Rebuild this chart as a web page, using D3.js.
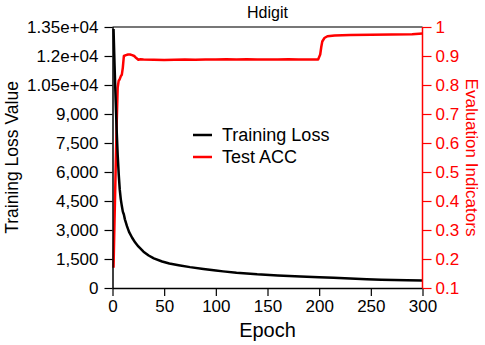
<!DOCTYPE html>
<html><head><meta charset="utf-8">
<script src="https://cdn.jsdelivr.net/npm/d3@7"></script>
<style>body{margin:0;background:#fff}svg{display:block;font-family:"Liberation Sans",Arial,sans-serif}</style>
</head><body><svg id="c" width="485" height="345"></svg>
<script>
const lossEpochs = [1,2,3,4,5,6,7,8,9,10,11,12,14,16,19,22,25,30,35,40,48,55,64,75,88,100,107,120,140,160,182,200,214,230,246,260,285,300];
const lossValues = [13400,11500,9800,8200,6900,5900,5100,4600,4250,3950,3800,3550,3200,2900,2600,2350,2150,1880,1680,1530,1370,1270,1180,1080,980,900,860,790,708,650,590,555,530,490,455,430,400,390];
const accEpochs = [1,2,3,4,5,6,7,8,9,10,11,13,15,17,19,21,23,25,27,30,40,50,60,70,80,90,100,110,120,130,140,150,160,170,180,190,199,201,202,203,205,208,215,230,250,270,290,300];
const accValues = [0.17,0.34,0.5,0.66,0.79,0.815,0.82,0.83,0.835,0.86,0.9,0.903,0.905,0.905,0.903,0.9,0.893,0.887,0.889,0.888,0.887,0.886,0.887,0.888,0.887,0.888,0.888,0.889,0.888,0.889,0.888,0.888,0.888,0.889,0.888,0.888,0.888,0.905,0.93,0.95,0.962,0.968,0.971,0.972,0.973,0.974,0.975,0.978];
const xTicks = [0,50,100,150,200,250,300];
const lossTicks = [0,1500,3000,4500,6000,7500,9000,10500,12000,13500];
const lossTickLabels = ["0","1,500","3,000","4,500","6,000","7,500","9,000","1.05e+04","1.2e+04","1.35e+04"];
const accTicks = [0.1,0.2,0.3,0.4,0.5,0.6,0.7,0.8,0.9,1];
const accTickLabels = ["0.1","0.2","0.3","0.4","0.5","0.6","0.7","0.8","0.9","1"];
const seriesNames = ["Training Loss","Test ACC"];

const svg = d3.select("#c");
const L=112.5, R=422.5, T=27, B=288;
const x = d3.scaleLinear().domain([0,300]).range([L,R]);
const yL = d3.scaleLinear().domain([0,13500]).range([B,T]);
const yR = d3.scaleLinear().domain([0.1,1]).range([B,T]);

// top border
svg.append("line").attr("x1",L).attr("x2",R).attr("y1",T).attr("y2",T).attr("stroke","#777").attr("stroke-width",2);

const lossData = lossEpochs.map((e,i)=>[e,lossValues[i]]);
const accData = accEpochs.map((e,i)=>[e,accValues[i]]);
svg.append("path").datum(accData).attr("fill","none").attr("stroke","#ff0000").attr("stroke-width",2.5)
  .attr("stroke-linejoin","round").attr("d",d3.line().x(d=>x(d[0])).y(d=>yR(d[1])));
svg.append("path").datum(lossData).attr("fill","none").attr("stroke","#000").attr("stroke-width",2.5)
  .attr("stroke-linejoin","round").attr("d",d3.line().x(d=>x(d[0])).y(d=>yL(d[1])));

const fs = "17px";
const gx = svg.append("g").attr("transform",`translate(0,${B})`)
  .call(d3.axisBottom(x).tickValues(xTicks).tickSize(8).tickPadding(4).tickFormat(d3.format("d")));
const gl = svg.append("g").attr("transform",`translate(${L},0)`)
  .call(d3.axisLeft(yL).tickValues(lossTicks).tickSize(8).tickPadding(6).tickFormat((d,i)=>lossTickLabels[i]));
const gr = svg.append("g").attr("transform",`translate(${R},0)`)
  .call(d3.axisRight(yR).tickValues(accTicks).tickSize(9).tickPadding(4).tickFormat((d,i)=>accTickLabels[i]));
[gx,gl].forEach(g=>{g.select(".domain").attr("stroke","#000").attr("stroke-width",1.5);
  g.selectAll(".tick line").attr("stroke","#000").attr("stroke-width",1.2);
  g.selectAll("text").attr("fill","#000").style("font-size",fs).style("font-family","Liberation Sans, Arial, sans-serif");});
gx.select(".domain").attr("d",`M${L},0.5H${R}`);
gl.select(".domain").attr("d",`M0.5,${B}V${T}`);
gr.select(".domain").attr("stroke","#ff0000").attr("stroke-width",1.5).attr("d",`M0,${B}V${T}`);
gr.selectAll(".tick line").attr("stroke","#ff0000").attr("stroke-width",1.2);
gr.selectAll("text").attr("fill","#ff0000").style("font-size",fs).style("font-family","Liberation Sans, Arial, sans-serif");

svg.append("text").attr("x",(L+R)/2).attr("y",18).attr("text-anchor","middle").style("font-size","16px").text("Hdigit");
svg.append("text").attr("x",(L+R)/2).attr("y",337).attr("text-anchor","middle").style("font-size","20px").text("Epoch");
svg.append("text").attr("transform",`translate(18,${(T+B)/2}) rotate(-90)`).attr("text-anchor","middle").style("font-size","17.5px").text("Training Loss Value");
svg.append("text").attr("transform",`translate(466,${(T+B)/2}) rotate(90)`).attr("text-anchor","middle").attr("fill","#ff0000").style("font-size","17px").text("Evaluation Indicators");

const leg = [{n:seriesNames[0],c:"#000",y:135},{n:seriesNames[1],c:"#ff0000",y:157}];
leg.forEach(d=>{
  svg.append("line").attr("x1",193).attr("x2",212).attr("y1",d.y).attr("y2",d.y).attr("stroke",d.c).attr("stroke-width",2.5);
  svg.append("text").attr("x",222).attr("y",d.y+6).style("font-size","18px").text(d.n);
});
</script></body></html>
